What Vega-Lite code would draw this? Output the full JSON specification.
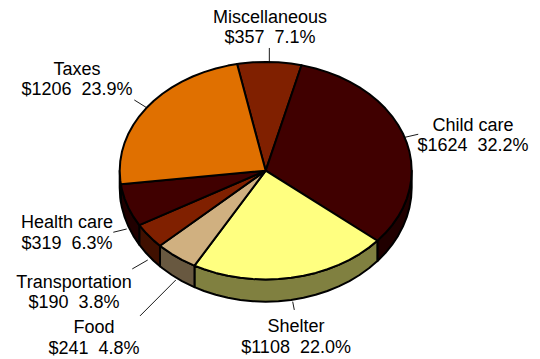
{"$schema":"https://vega.github.io/schema/vega-lite/v6.json","width":540,"height":359,"padding":0,"autosize":"none","view":{"stroke":null},"background":"white",
"datasets":{
"slices":[
{"slice":"Miscellaneous","amount":357,"percent":7.1,"label":"Miscellaneous\n$357 \u00a07.1%","lx":0.029,"ly":1.408,"x0":0.025,"y0":1.128,"x1":0.025,"y1":0.999},
{"slice":"Child care","amount":1624,"percent":32.2,"label":"Child care\n$1624 \u00a032.2%","lx":1.42,"ly":0.415,"x0":0.954,"y0":0.307,"x1":1.045,"y1":0.335},
{"slice":"Shelter","amount":1108,"percent":22.0,"label":"Shelter\n$1108 \u00a022.0%","lx":0.208,"ly":-1.441,"x0":0.185,"y0":-1.204,"x1":0.196,"y1":-1.28},
{"slice":"Food","amount":241,"percent":4.8,"label":"Food\n$241 \u00a04.8%","lx":-1.176,"ly":-1.45,"x0":-0.861,"y0":-1.335,"x1":-0.616,"y1":-1.005},
{"slice":"Transportation","amount":190,"percent":3.8,"label":"Transportation\n$190 \u00a03.8%","lx":-1.313,"ly":-1.028,"x0":-0.914,"y0":-0.903,"x1":-0.808,"y1":-0.821},
{"slice":"Health care","amount":319,"percent":6.3,"label":"Health care\n$319 \u00a06.3%","lx":-1.361,"ly":-0.485,"x0":-1.044,"y0":-0.566,"x1":-0.952,"y1":-0.536},
{"slice":"Taxes","amount":1206,"percent":23.9,"label":"Taxes\n$1206 \u00a023.9%","lx":-1.292,"ly":0.93,"x0":-0.9,"y0":0.65,"x1":-0.82,"y1":0.583}
],
"rim":[
{"slice":"Child care","x":1,"y":0,"y2":-0.156},{"slice":"Child care","x":0.9962,"y":-0.0872,"y2":-0.2474},{"slice":"Child care","x":0.9848,"y":-0.1736,"y2":-0.3379},{"slice":"Child care","x":0.9659,"y":-0.2588,"y2":-0.4272},{"slice":"Child care","x":0.9397,"y":-0.342,"y2":-0.5144},{"slice":"Child care","x":0.9063,"y":-0.4226,"y2":-0.5989},{"slice":"Child care","x":0.866,"y":-0.5,"y2":-0.68},{"slice":"Child care","x":0.8192,"y":-0.5736,"y2":-0.7571},{"slice":"Child care","x":0.766,"y":-0.6428,"y2":-0.8297},{"slice":"Child care","x":0.7649,"y":-0.6441,"y2":-0.831},
{"slice":"Shelter","x":0.7649,"y":-0.6441,"y2":-0.831},{"slice":"Shelter","x":0.7071,"y":-0.7071,"y2":-0.897},{"slice":"Shelter","x":0.6428,"y":-0.766,"y2":-0.9588},{"slice":"Shelter","x":0.5736,"y":-0.8192,"y2":-1.0145},{"slice":"Shelter","x":0.5,"y":-0.866,"y2":-1.0636},{"slice":"Shelter","x":0.4226,"y":-0.9063,"y2":-1.1058},{"slice":"Shelter","x":0.342,"y":-0.9397,"y2":-1.1408},{"slice":"Shelter","x":0.2588,"y":-0.9659,"y2":-1.1682},{"slice":"Shelter","x":0.1736,"y":-0.9848,"y2":-1.1881},{"slice":"Shelter","x":0.0872,"y":-0.9962,"y2":-1.2},{"slice":"Shelter","x":0,"y":-1,"y2":-1.204},{"slice":"Shelter","x":-0.0872,"y":-0.9962,"y2":-1.2},{"slice":"Shelter","x":-0.1736,"y":-0.9848,"y2":-1.1881},{"slice":"Shelter","x":-0.2588,"y":-0.9659,"y2":-1.1682},{"slice":"Shelter","x":-0.342,"y":-0.9397,"y2":-1.1408},{"slice":"Shelter","x":-0.4226,"y":-0.9063,"y2":-1.1058},{"slice":"Shelter","x":-0.4879,"y":-0.8729,"y2":-1.0708},
{"slice":"Food","x":-0.4879,"y":-0.8729,"y2":-1.0708},{"slice":"Food","x":-0.5,"y":-0.866,"y2":-1.0636},{"slice":"Food","x":-0.5736,"y":-0.8192,"y2":-1.0145},{"slice":"Food","x":-0.6428,"y":-0.766,"y2":-0.9588},{"slice":"Food","x":-0.7071,"y":-0.7071,"y2":-0.897},{"slice":"Food","x":-0.7242,"y":-0.6896,"y2":-0.8787},
{"slice":"Transportation","x":-0.7242,"y":-0.6896,"y2":-0.8787},{"slice":"Transportation","x":-0.766,"y":-0.6428,"y2":-0.8297},{"slice":"Transportation","x":-0.8192,"y":-0.5736,"y2":-0.7571},{"slice":"Transportation","x":-0.866,"y":-0.5,"y2":-0.68},
{"slice":"Health care","x":-0.866,"y":-0.5,"y2":-0.68},{"slice":"Health care","x":-0.9063,"y":-0.4226,"y2":-0.5989},{"slice":"Health care","x":-0.9397,"y":-0.342,"y2":-0.5144},{"slice":"Health care","x":-0.9659,"y":-0.2588,"y2":-0.4272},{"slice":"Health care","x":-0.9848,"y":-0.1736,"y2":-0.3379},{"slice":"Health care","x":-0.9921,"y":-0.1253,"y2":-0.2873},
{"slice":"Taxes","x":-0.9921,"y":-0.1253,"y2":-0.2873},{"slice":"Taxes","x":-0.9962,"y":-0.0872,"y2":-0.2474},{"slice":"Taxes","x":-1,"y":0,"y2":-0.156}
],
"top":[
{"slice":"Miscellaneous","i":0,"x":0,"y":0},{"slice":"Miscellaneous","i":1,"x":-0.1959,"y":0.9806},{"slice":"Miscellaneous","i":2,"x":-0.1736,"y":0.9848},{"slice":"Miscellaneous","i":3,"x":-0.0872,"y":0.9962},{"slice":"Miscellaneous","i":4,"x":0,"y":1},{"slice":"Miscellaneous","i":5,"x":0.0872,"y":0.9962},{"slice":"Miscellaneous","i":6,"x":0.1736,"y":0.9848},{"slice":"Miscellaneous","i":7,"x":0.2453,"y":0.9694},
{"slice":"Child care","i":0,"x":0,"y":0},{"slice":"Child care","i":1,"x":0.2453,"y":0.9694},{"slice":"Child care","i":2,"x":0.2588,"y":0.9659},{"slice":"Child care","i":3,"x":0.342,"y":0.9397},{"slice":"Child care","i":4,"x":0.4226,"y":0.9063},{"slice":"Child care","i":5,"x":0.5,"y":0.866},{"slice":"Child care","i":6,"x":0.5736,"y":0.8192},{"slice":"Child care","i":7,"x":0.6428,"y":0.766},{"slice":"Child care","i":8,"x":0.7071,"y":0.7071},{"slice":"Child care","i":9,"x":0.766,"y":0.6428},{"slice":"Child care","i":10,"x":0.8192,"y":0.5736},{"slice":"Child care","i":11,"x":0.866,"y":0.5},{"slice":"Child care","i":12,"x":0.9063,"y":0.4226},{"slice":"Child care","i":13,"x":0.9397,"y":0.342},{"slice":"Child care","i":14,"x":0.9659,"y":0.2588},{"slice":"Child care","i":15,"x":0.9848,"y":0.1736},{"slice":"Child care","i":16,"x":0.9962,"y":0.0872},{"slice":"Child care","i":17,"x":1,"y":0},{"slice":"Child care","i":18,"x":0.9962,"y":-0.0872},{"slice":"Child care","i":19,"x":0.9848,"y":-0.1736},{"slice":"Child care","i":20,"x":0.9659,"y":-0.2588},{"slice":"Child care","i":21,"x":0.9397,"y":-0.342},{"slice":"Child care","i":22,"x":0.9063,"y":-0.4226},{"slice":"Child care","i":23,"x":0.866,"y":-0.5},{"slice":"Child care","i":24,"x":0.8192,"y":-0.5736},{"slice":"Child care","i":25,"x":0.766,"y":-0.6428},{"slice":"Child care","i":26,"x":0.7649,"y":-0.6441},
{"slice":"Shelter","i":0,"x":0,"y":0},{"slice":"Shelter","i":1,"x":0.7649,"y":-0.6441},{"slice":"Shelter","i":2,"x":0.7071,"y":-0.7071},{"slice":"Shelter","i":3,"x":0.6428,"y":-0.766},{"slice":"Shelter","i":4,"x":0.5736,"y":-0.8192},{"slice":"Shelter","i":5,"x":0.5,"y":-0.866},{"slice":"Shelter","i":6,"x":0.4226,"y":-0.9063},{"slice":"Shelter","i":7,"x":0.342,"y":-0.9397},{"slice":"Shelter","i":8,"x":0.2588,"y":-0.9659},{"slice":"Shelter","i":9,"x":0.1736,"y":-0.9848},{"slice":"Shelter","i":10,"x":0.0872,"y":-0.9962},{"slice":"Shelter","i":11,"x":0,"y":-1},{"slice":"Shelter","i":12,"x":-0.0872,"y":-0.9962},{"slice":"Shelter","i":13,"x":-0.1736,"y":-0.9848},{"slice":"Shelter","i":14,"x":-0.2588,"y":-0.9659},{"slice":"Shelter","i":15,"x":-0.342,"y":-0.9397},{"slice":"Shelter","i":16,"x":-0.4226,"y":-0.9063},{"slice":"Shelter","i":17,"x":-0.4879,"y":-0.8729},
{"slice":"Food","i":0,"x":0,"y":0},{"slice":"Food","i":1,"x":-0.4879,"y":-0.8729},{"slice":"Food","i":2,"x":-0.5,"y":-0.866},{"slice":"Food","i":3,"x":-0.5736,"y":-0.8192},{"slice":"Food","i":4,"x":-0.6428,"y":-0.766},{"slice":"Food","i":5,"x":-0.7071,"y":-0.7071},{"slice":"Food","i":6,"x":-0.7242,"y":-0.6896},
{"slice":"Transportation","i":0,"x":0,"y":0},{"slice":"Transportation","i":1,"x":-0.7242,"y":-0.6896},{"slice":"Transportation","i":2,"x":-0.766,"y":-0.6428},{"slice":"Transportation","i":3,"x":-0.8192,"y":-0.5736},{"slice":"Transportation","i":4,"x":-0.866,"y":-0.5},
{"slice":"Health care","i":0,"x":0,"y":0},{"slice":"Health care","i":1,"x":-0.866,"y":-0.5},{"slice":"Health care","i":2,"x":-0.9063,"y":-0.4226},{"slice":"Health care","i":3,"x":-0.9397,"y":-0.342},{"slice":"Health care","i":4,"x":-0.9659,"y":-0.2588},{"slice":"Health care","i":5,"x":-0.9848,"y":-0.1736},{"slice":"Health care","i":6,"x":-0.9921,"y":-0.1253},
{"slice":"Taxes","i":0,"x":0,"y":0},{"slice":"Taxes","i":1,"x":-0.9921,"y":-0.1253},{"slice":"Taxes","i":2,"x":-0.9962,"y":-0.0872},{"slice":"Taxes","i":3,"x":-1,"y":0},{"slice":"Taxes","i":4,"x":-0.9962,"y":0.0872},{"slice":"Taxes","i":5,"x":-0.9848,"y":0.1736},{"slice":"Taxes","i":6,"x":-0.9659,"y":0.2588},{"slice":"Taxes","i":7,"x":-0.9397,"y":0.342},{"slice":"Taxes","i":8,"x":-0.9063,"y":0.4226},{"slice":"Taxes","i":9,"x":-0.866,"y":0.5},{"slice":"Taxes","i":10,"x":-0.8192,"y":0.5736},{"slice":"Taxes","i":11,"x":-0.766,"y":0.6428},{"slice":"Taxes","i":12,"x":-0.7071,"y":0.7071},{"slice":"Taxes","i":13,"x":-0.6428,"y":0.766},{"slice":"Taxes","i":14,"x":-0.5736,"y":0.8192},{"slice":"Taxes","i":15,"x":-0.5,"y":0.866},{"slice":"Taxes","i":16,"x":-0.4226,"y":0.9063},{"slice":"Taxes","i":17,"x":-0.342,"y":0.9397},{"slice":"Taxes","i":18,"x":-0.2588,"y":0.9659},{"slice":"Taxes","i":19,"x":-0.1959,"y":0.9806}
]},
"layer":[
{"data":{"name":"rim"},"mark":{"type":"area","stroke":"black","strokeWidth":2,"strokeJoin":"round","fillOpacity":1},
"encoding":{"x":{"field":"x","type":"quantitative","axis":null,"scale":{"domain":[-1.82,1.879],"nice":false,"zero":false}},"y":{"field":"y","type":"quantitative","axis":null,"scale":{"domain":[-1.731,1.569],"nice":false,"zero":false}},"y2":{"field":"y2"},
"fill":{"field":"slice","type":"nominal","legend":null,"scale":{"domain":["Child care","Shelter","Food","Transportation","Health care","Taxes"],"range":["#200000","#808040","#685840","#401000","#200000","#703800"]}}}},
{"data":{"name":"top"},"mark":{"type":"line","interpolate":"linear-closed","stroke":"black","strokeWidth":2,"strokeJoin":"round"},
"encoding":{"x":{"field":"x","type":"quantitative"},"y":{"field":"y","type":"quantitative"},"order":{"field":"i","type":"quantitative"},
"fill":{"field":"slice","type":"nominal","legend":null,"scale":{"domain":["Miscellaneous","Child care","Shelter","Food","Transportation","Health care","Taxes"],"range":["#802000","#400000","#ffff80","#d0b080","#802000","#400000","#e07000"]}}}},
{"data":{"name":"slices"},"mark":{"type":"rule","stroke":"black","strokeWidth":0.9},
"encoding":{"x":{"field":"x0","type":"quantitative"},"y":{"field":"y0","type":"quantitative"},"x2":{"field":"x1"},"y2":{"field":"y1"}}},
{"data":{"name":"slices"},"mark":{"type":"text","font":"Liberation Sans","fontSize":18,"lineBreak":"\n","lineHeight":20.5,"align":"center","baseline":"middle","color":"black"},
"encoding":{"x":{"field":"lx","type":"quantitative"},"y":{"field":"ly","type":"quantitative"},"text":{"field":"label","type":"nominal"}}}
],
"resolve":{"scale":{"fill":"independent"}}}
